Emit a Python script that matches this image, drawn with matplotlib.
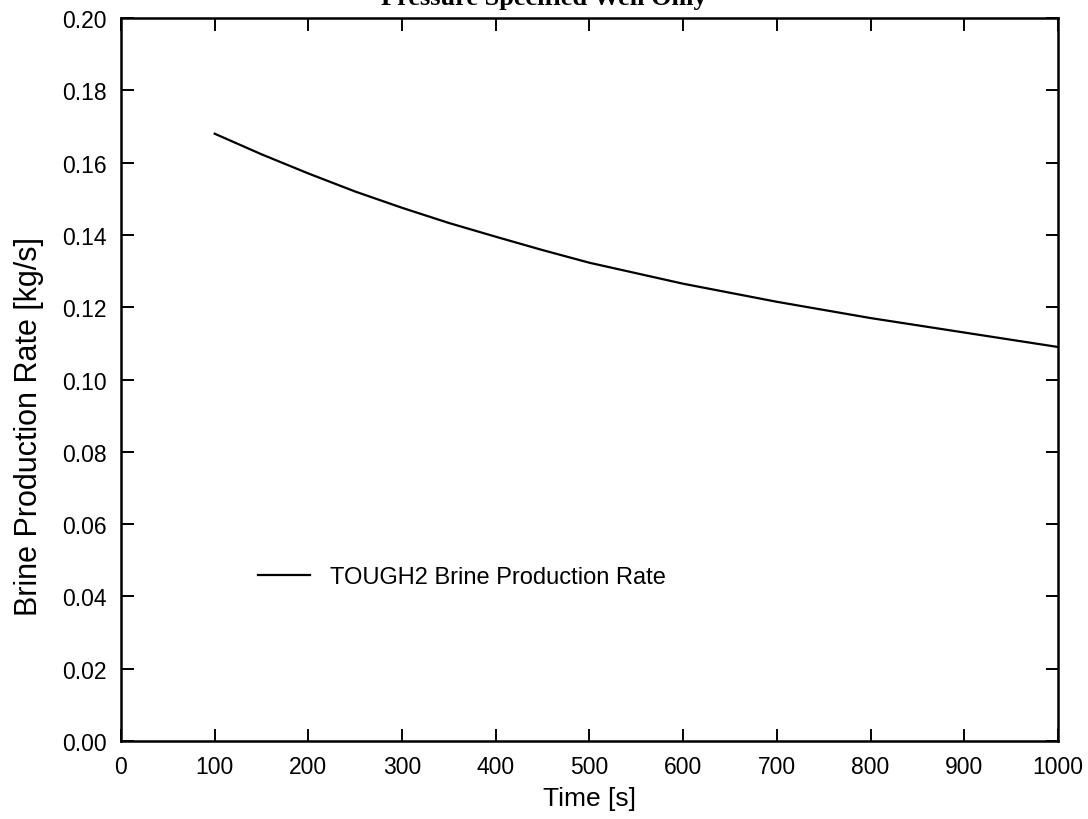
import numpy as np
import matplotlib
matplotlib.use("Agg")
import matplotlib.pyplot as plt
from matplotlib.ticker import FormatStrFormatter

# Brine production rate
time_s = [100, 150, 200, 250, 300, 350, 400, 450, 500, 600, 700, 800, 900, 1000]
rate_kgs = [0.168, 0.1623, 0.157, 0.152, 0.1475, 0.1433, 0.1395, 0.1358, 0.1323,
            0.1265, 0.1215, 0.117, 0.113, 0.109]

x_ticks = list(range(0, 1001, 100))
y_ticks = [0.00, 0.02, 0.04, 0.06, 0.08, 0.10, 0.12, 0.14, 0.16, 0.18, 0.20]

plt.rcParams['font.family'] = ['Liberation Sans', 'DejaVu Sans']

fig = plt.figure(figsize=(10.88, 8.2), dpi=100)
ax = fig.add_axes([0.1112, 0.0951, 0.8612, 0.8817])

ax.plot(time_s, rate_kgs, color='black', linewidth=1.6,
        label='TOUGH2 Brine Production Rate')

ax.set_xlim(0, 1000)
ax.set_ylim(0, 0.2)
ax.set_xticks(x_ticks)
ax.set_yticks(y_ticks)
ax.yaxis.set_major_formatter(FormatStrFormatter('%.2f'))
ax.tick_params(direction='in', length=9, width=1.4, top=True, right=True,
               labelsize=16.5, pad=10, colors='black')
for sp in ax.spines.values():
    sp.set_linewidth(1.8)

ax.set_xlabel('Time [s]', fontsize=19, labelpad=6)
ax.set_ylabel('Brine Production Rate [kg/s]', fontsize=22)
# the scanned label sits a bit below the axis centre
ax.yaxis.set_label_coords(-0.082, 0.437)

ax.legend(loc='center left', bbox_to_anchor=(0.146, 0.227), frameon=False,
          fontsize=17, handlelength=2.2, handletextpad=0.85,
          borderaxespad=0, borderpad=0)

# title is cut off at the top of the page in the original scan
fig.text(0.5, 0.994, 'Pressure Specified Well Only', ha='center', va='baseline',
         fontsize=19, fontweight='bold', family=['Liberation Serif', 'DejaVu Serif'])

fig.savefig('out.png', dpi=100)
